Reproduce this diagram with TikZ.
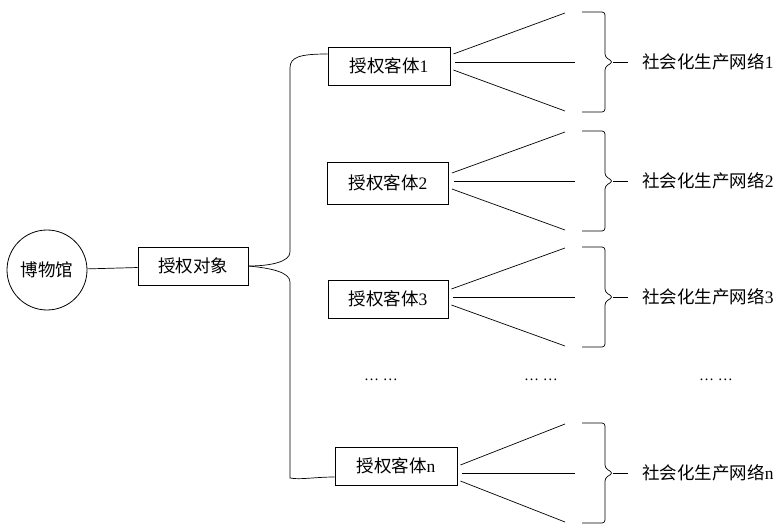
\documentclass[tikz,border=0pt]{standalone}
\usepackage{fontspec}
\setmainfont{Liberation Serif}
\newfontfamily\cjk{Noto Sans CJK SC}
\usetikzlibrary{calc}

\begin{document}
\begin{tikzpicture}[
  x=1pt, y=-1pt, line width=0.7pt,
  every node/.style={font=\fontsize{17.5}{18}\selectfont},
  holderbox/.style={rectangle, draw, line width=0.8pt, inner sep=0pt, minimum height=38pt},
  netlabel/.style={anchor=west, inner sep=0pt},
  dotsnode/.style={inner sep=0pt, font=\fontsize{15}{15}\selectfont},
]
\useasboundingbox (0,0) rectangle (781,526);

\node[circle, draw, line width=0.8pt, minimum size=80pt, inner sep=0pt] (museum) at (47,270) {\cjk 博物馆};
\node[holderbox, minimum width=110pt] (obj) at (193,266) {\cjk 授权对象};

\node[holderbox, minimum width=122pt] (sub1) at (389,66) {{\cjk 授权客体}1};
\node[holderbox, minimum width=121pt, minimum height=42pt] (sub2) at (388,183) {{\cjk 授权客体}2};
\node[holderbox, minimum width=120pt] (sub3) at (388,299) {{\cjk 授权客体}3};
\node[holderbox, minimum width=122pt] (subn) at (396,466) {{\cjk 授权客体}n};

\node[netlabel] (net1) at (642,62) {{\cjk 社会化生产网络}1};
\node[netlabel] (net2) at (642,181) {{\cjk 社会化生产网络}2};
\node[netlabel] (net3) at (642,297) {{\cjk 社会化生产网络}3};
\node[netlabel] (netn) at (642,473) {{\cjk 社会化生产网络}n};

\node[dotsnode] (dotsA) at (381,380) {\dots\ \dots};
\node[dotsnode] (dotsB) at (541,380) {\dots\ \dots};
\node[dotsnode] (dotsC) at (716,380) {\dots\ \dots};

\draw (museum) -- (obj);

\draw ($(sub1.west)+(0,-12)$) .. controls (300,54) and (290,57) .. (290,68) -- (290,252)
  .. controls (290,262) and (270,266) .. (obj.east);
\draw (obj.east) .. controls (270,268) and (290,272) .. (290,282) -- (290,478)
  .. controls (300,480) and (315,477) .. ($(subn.west)+(0,11)$);

\foreach \s/\yb in {sub1/62, sub2/181, sub3/297, subn/473} {
  \draw ($(\s.east |- 0,\yb)+(3,-8)$) -- (565,{\yb-49});
  \draw ($(\s.east |- 0,\yb)+(5,0)$) -- (575,\yb);
  \draw ($(\s.east |- 0,\yb)+(3,8)$) -- (565,{\yb+49});
  \draw[rounded corners=3pt] (582,{\yb-50}) -- (605,{\yb-50}) -- (605,{\yb-5}) -- (613,\yb)
    -- (605,{\yb+5}) -- (605,{\yb+50}) -- (582,{\yb+50});
  \draw (613,\yb) -- (628,\yb);
}
\end{tikzpicture}
\end{document}
